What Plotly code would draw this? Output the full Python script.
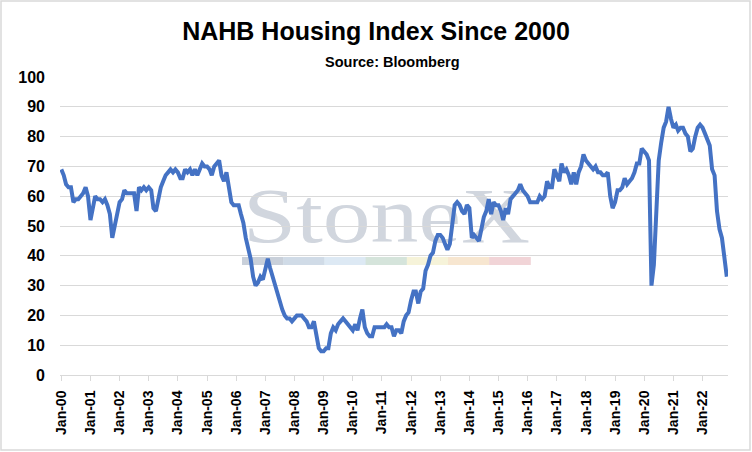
import base64
import pandas as pd
import plotly.graph_objects as go

# NAHB housing market index, monthly, Jan-2000 .. Nov-2022
hmi_2000 = [69, 67, 64, 63, 63, 58, 59, 59, 60, 61, 63, 60]
hmi_2001 = [52, 57, 60, 59, 59, 58, 59, 57, 54, 46, 50, 55]
hmi_2002 = [58, 59, 62, 61, 61, 61, 61, 55, 63, 62, 63, 62]
hmi_2003 = [63, 62, 56, 55, 59, 63, 65, 67, 68, 69, 68, 69]
hmi_2004 = [68, 66, 66, 69, 68, 69, 67, 69, 67, 69, 71, 70]
hmi_2005 = [70, 69, 67, 70, 71, 72, 67, 65, 68, 63, 58, 57]
hmi_2006 = [57, 57, 54, 51, 46, 42, 39, 33, 30, 31, 33, 32]
hmi_2007 = [35, 39, 36, 33, 30, 28, 24, 22, 20, 19, 19, 18]
hmi_2008 = [19, 20, 20, 20, 19, 18, 16, 16, 18, 14, 9, 8]
hmi_2009 = [8, 9, 9, 14, 16, 15, 17, 18, 19, 18, 17, 16]
hmi_2010 = [15, 17, 15, 19, 22, 16, 14, 13, 13, 16, 16, 16]
hmi_2011 = [16, 16, 17, 16, 16, 13, 15, 15, 14, 18, 20, 21]
hmi_2012 = [25, 28, 28, 24, 28, 29, 35, 37, 40, 41, 45, 47]
hmi_2013 = [47, 46, 44, 42, 44, 52, 57, 58, 57, 55, 54, 57]
hmi_2014 = [56, 46, 47, 46, 45, 49, 53, 55, 59, 54, 58, 57]
hmi_2015 = [57, 55, 52, 56, 54, 59, 60, 61, 62, 64, 62, 61]
hmi_2016 = [60, 58, 58, 58, 58, 60, 59, 60, 65, 63, 63, 69]
hmi_2017 = [67, 65, 71, 68, 69, 67, 64, 68, 64, 68, 70, 74]
hmi_2018 = [72, 71, 70, 69, 70, 68, 68, 67, 67, 68, 60, 56]
hmi_2019 = [58, 62, 62, 63, 66, 64, 65, 66, 68, 71, 71, 76]
hmi_2020 = [75, 74, 72, 30, 37, 58, 72, 78, 83, 85, 90, 86]
hmi_2021 = [83, 84, 82, 83, 83, 81, 80, 75, 76, 80, 83, 84]
hmi_2022 = [83, 81, 79, 77, 69, 67, 55, 49, 46, 38, 33]

hmi = (hmi_2000 + hmi_2001 + hmi_2002 + hmi_2003 + hmi_2004 + hmi_2005
       + hmi_2006 + hmi_2007 + hmi_2008 + hmi_2009 + hmi_2010 + hmi_2011
       + hmi_2012 + hmi_2013 + hmi_2014 + hmi_2015 + hmi_2016 + hmi_2017
       + hmi_2018 + hmi_2019 + hmi_2020 + hmi_2021 + hmi_2022)
months = pd.date_range("2000-01-01", periods=len(hmi), freq="MS")

tick_years = list(range(2000, 2023))
tick_dates = [f"{y}-01-01" for y in tick_years]
tick_text = [f"Jan-{y % 100:02d}" for y in tick_years]

# StoneX watermark as a small svg placed under the plot
band = ["#c9d0da", "#d0dbe7", "#dde9f4", "#d5e4db", "#f6f3d9", "#f7e6d0", "#f1d4d7"]
rects = "".join(
    f'<rect x="{i * 41.2:.1f}" y="72" width="41.6" height="8" fill="{c}"/>'
    for i, c in enumerate(band)
)
svg = (
    '<svg xmlns="http://www.w3.org/2000/svg" width="289" height="80" '
    'viewBox="0 0 289 80" preserveAspectRatio="none">'
    '<text x="1" y="57" font-family="Liberation Serif, DejaVu Serif, serif" '
    'font-size="78" fill="#d1d6de" textLength="287" lengthAdjust="spacingAndGlyphs">StoneX</text>'
    + rects + "</svg>"
)
logo = "data:image/svg+xml;base64," + base64.b64encode(svg.encode()).decode()

fig = go.Figure()
fig.add_trace(go.Scatter(
    x=months, y=hmi, mode="lines",
    line=dict(color="#4472c4", width=4),
    hoverinfo="x+y",
))

sans = "Liberation Sans, Arial, sans-serif"
xfont = dict(family=sans, size=14, color="#000000", weight="bold")
yfont = dict(family=sans, size=16, color="#000000", weight="bold")

fig.update_layout(
    width=752, height=452,
    margin=dict(l=60, r=24, t=77, b=77),
    paper_bgcolor="white", plot_bgcolor="white",
    showlegend=False,
    title=dict(
        text="NAHB Housing Index Since 2000",
        x=0.5, xanchor="center", y=1 - 31 / 452, yanchor="middle",
        font=dict(family=sans, size=25, color="#000000", weight="bold"),
    ),
    annotations=[dict(
        text="Source: Bloomberg", xref="paper", yref="paper",
        x=(392 - 60) / 668, y=(375 - 62) / 298, xanchor="center", yanchor="middle",
        showarrow=False,
        font=dict(family=sans, size=14.5, color="#000000", weight="bold"),
    )],
    images=[dict(
        source=logo, xref="paper", yref="paper",
        x=(242 - 60) / 668, y=(375 - 185) / 298,
        sizex=(531 - 242) / 668, sizey=(265 - 185) / 298,
        xanchor="left", yanchor="top", sizing="stretch", layer="below",
    )],
    shapes=[dict(
        type="rect", xref="paper", yref="paper",
        x0=(1 - 60) / 668, x1=(750 - 60) / 668,
        y0=(375 - 450) / 298, y1=(375 - 1) / 298,
        line=dict(color="#d9d9d9", width=1.5), fillcolor="rgba(0,0,0,0)",
    )],
)

fig.update_xaxes(
    type="date",
    range=["1999-12-16", "2022-11-16"],
    tickmode="array", tickvals=tick_dates, ticktext=tick_text,
    tickangle=-90, tickfont=xfont,
    showgrid=False, showline=True, linecolor="#d9d9d9", linewidth=1,
    ticks="outside", ticklen=5, tickcolor="#d9d9d9",
    ticklabelstandoff=4,
)
fig.update_yaxes(
    range=[0, 100], dtick=10, tickfont=yfont,
    showgrid=True, gridcolor="#d9d9d9", gridwidth=1,
    zeroline=False, showline=False, ticks="",
    ticklabelstandoff=14,
)

# the page has a default 8px body margin; drop it so the figure sits at 0,0
fig.write_html(
    "out.html",
    config={"displayModeBar": False},
    post_script="document.body.style.margin='0';",
)
